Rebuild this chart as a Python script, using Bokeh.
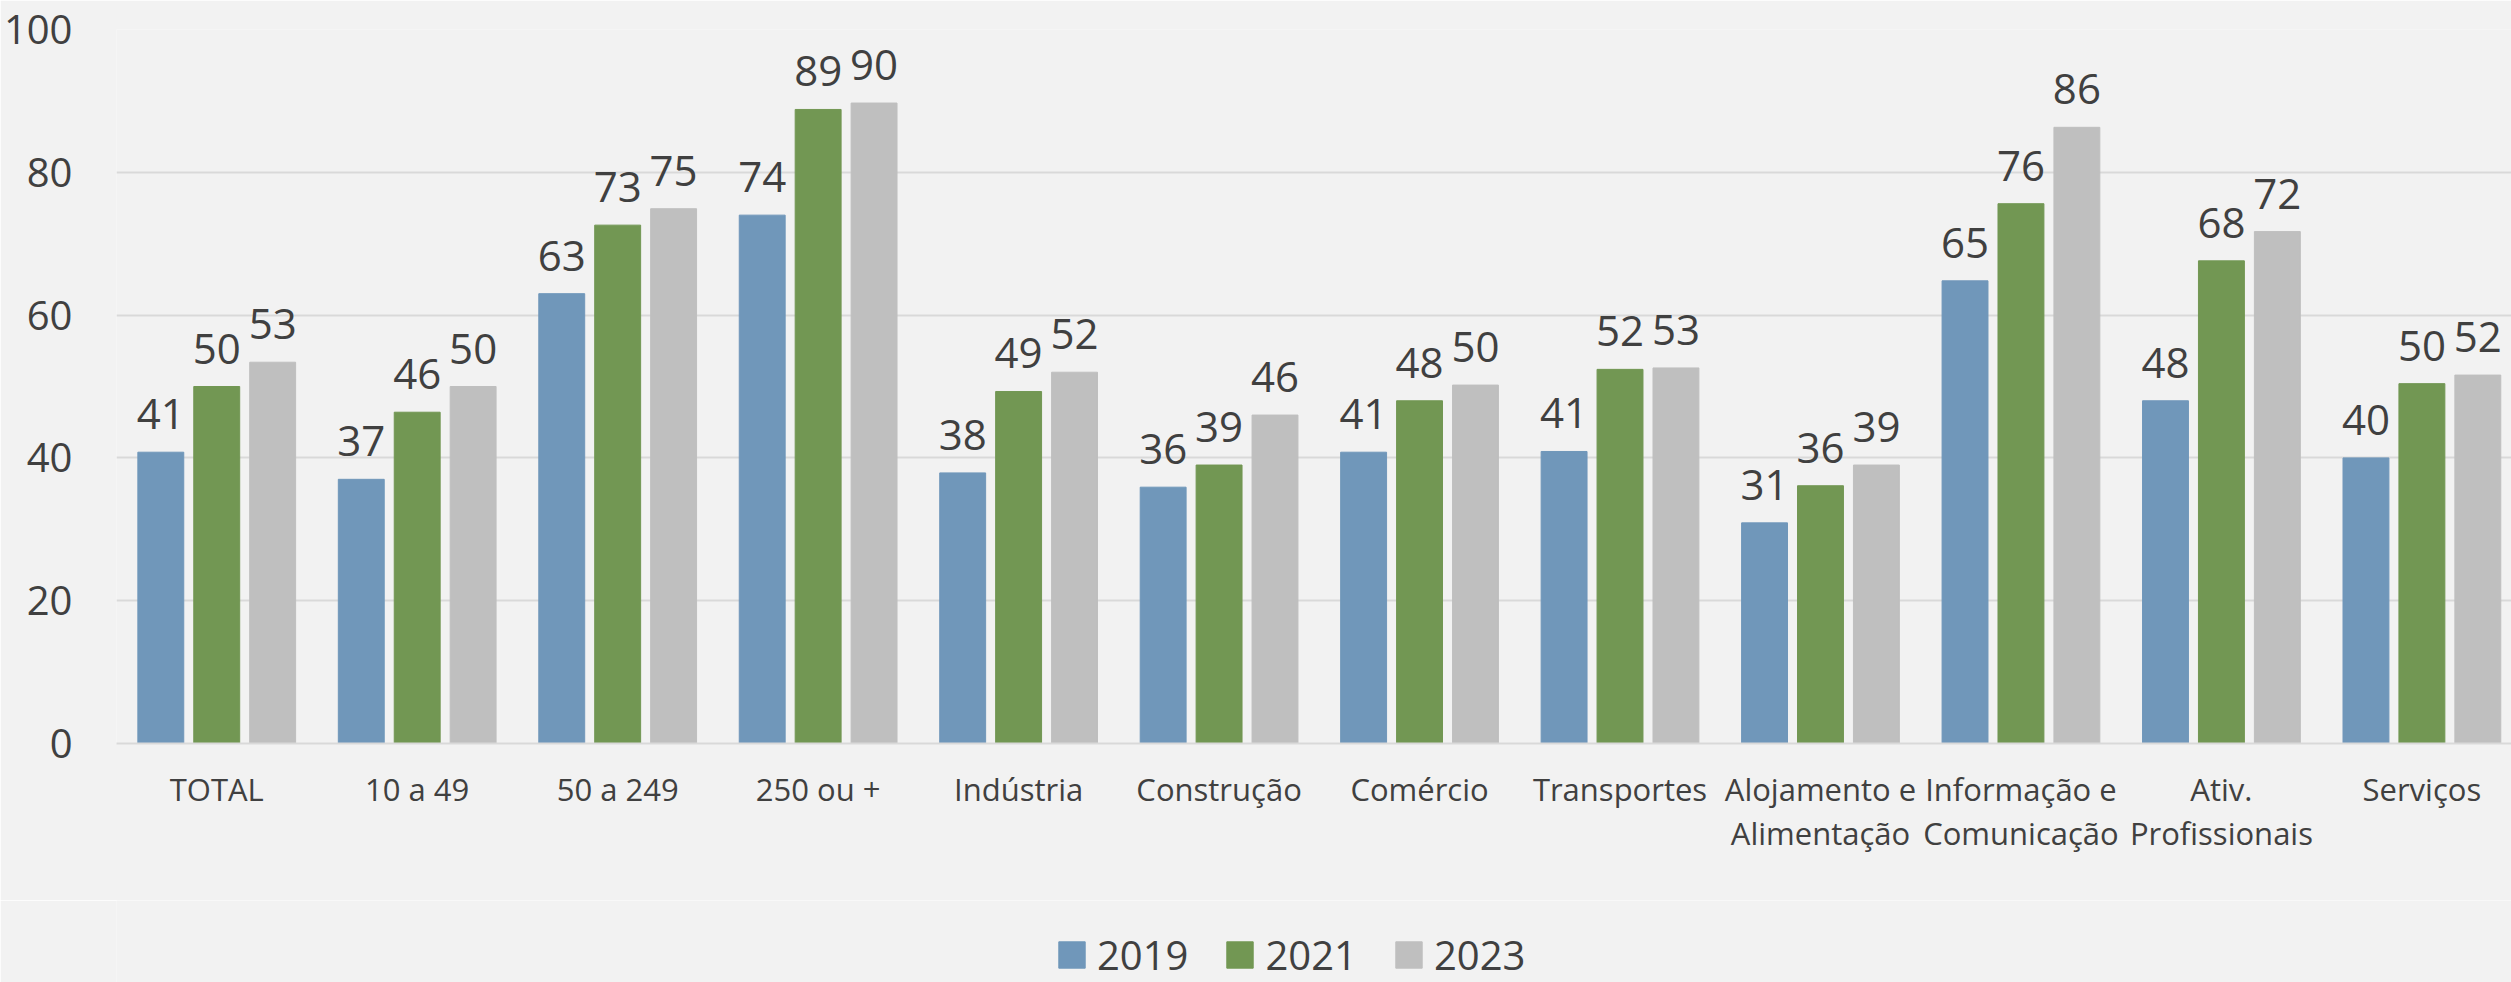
import numpy as np
from bokeh.plotting import figure
from bokeh.layouts import column
from bokeh.models import Range1d, FixedTicker, Legend, LegendItem, ColumnDataSource
from bokeh.core.properties import value
from bokeh.embed import file_html
from bokeh.resources import INLINE

# ---- data ----
categories = ["TOTAL", "10 a 49", "50 a 249", "250 ou +", "Indústria", "Construção",
              "Comércio", "Transportes", "Alojamento e\nAlimentação",
              "Informação e\nComunicação", "Ativ.\nProfissionais", "Serviços"]
years = ["2019", "2021", "2023"]
v2019 = [40.8, 37.0, 63.0, 74.0, 37.9, 35.9, 40.8, 40.9, 30.9, 64.8, 48.0, 40.0]
v2021 = [50.0, 46.4, 72.6, 88.8, 49.3, 39.0, 48.0, 52.4, 36.1, 75.6, 67.6, 50.4]
v2023 = [53.4, 50.0, 74.9, 89.7, 52.0, 46.0, 50.2, 52.6, 39.0, 86.3, 71.7, 51.6]
y_ticks = [0, 20, 40, 60, 80, 100]

colors = ["#7097ba", "#729753", "#bfbfbf"]
series = [v2019, v2021, v2023]

FONT = "Open Sans"
TXT = "#404040"
BG = "#f2f2f2"
GRID = "#d9d9d9"

W = 2511
H_MAIN, H_LEG = 900, 82

p = figure(width=W, height=H_MAIN, output_backend="svg", toolbar_location=None,
           x_range=Range1d(0, 11.947), y_range=Range1d(0, 100),
           min_border_left=114, min_border_right=0, min_border_top=29,
           min_border_bottom=157)
p.background_fill_color = BG
p.border_fill_color = BG
p.outline_line_color = None

centers = np.arange(len(categories)) + 0.5
bar_w = 0.229
offsets = [-0.279, 0.0, 0.279]

for yr, vals, col, off in zip(years, series, colors, offsets):
    src = ColumnDataSource(dict(x=centers + off, top=vals,
                                lbl=[f"{v:.0f}" for v in vals]))
    p.vbar(x="x", top="top", width=bar_w, bottom=0, source=src,
           fill_color=col, line_color=col, line_width=1)
    p.text(x="x", y="top", text="lbl", source=src, y_offset=-38,
           text_align="center", text_baseline="alphabetic",
           text_font=value(FONT), text_font_size="42px", text_color=TXT)

# axes
xa = p.xaxis[0]
xa.ticker = FixedTicker(ticks=list(centers))
xa.major_label_overrides = {float(c): lab for c, lab in zip(centers, categories)}
xa.major_tick_out = 0
xa.major_tick_in = 0
xa.minor_tick_out = 0
xa.minor_tick_in = 0
xa.axis_line_color = GRID
xa.axis_line_width = 2
xa.major_label_text_font = FONT
xa.major_label_text_font_size = "31px"
xa.major_label_text_color = TXT
xa.major_label_text_line_height = 1.05
xa.major_label_standoff = 24

ya = p.yaxis[0]
ya.ticker = FixedTicker(ticks=y_ticks)
ya.axis_line_color = None
ya.major_tick_out = 0
ya.major_tick_in = 0
ya.minor_tick_out = 0
ya.minor_tick_in = 0
ya.major_label_text_font = FONT
ya.major_label_text_font_size = "40px"
ya.major_label_text_color = TXT
ya.major_label_standoff = 44

p.xgrid.visible = False
p.ygrid.grid_line_color = GRID
p.ygrid.grid_line_width = 2

# legend strip below the chart (swatch renderers sit outside the visible range)
q = figure(width=W, height=H_LEG, output_backend="svg", toolbar_location=None,
           x_range=Range1d(0, 1), y_range=Range1d(0, 1),
           x_axis_location=None, y_axis_location=None,
           min_border_left=114, min_border_right=0, min_border_top=0, min_border_bottom=0)
q.background_fill_color = BG
q.border_fill_color = BG
q.outline_line_color = None
q.grid.visible = False
leg_r = []
for col in colors:
    leg_r.append(q.vbar(x=[0.5], bottom=[-2], top=[-1], width=0.1,
                        fill_color=col, line_color=col))

legend = Legend(items=[LegendItem(label=yr, renderers=[r]) for yr, r in zip(years, leg_r)],
                orientation="horizontal", location=(939, 0),
                glyph_width=33, glyph_height=33, label_standoff=9, spacing=35,
                padding=0, margin=0, border_line_alpha=0, background_fill_alpha=0,
                label_text_font=FONT, label_text_font_size="40px",
                label_text_color=TXT, label_height=26)
q.add_layout(legend, "center")

layout = column(p, q, spacing=0)
open("out.html", "w").write(file_html(layout, INLINE))
